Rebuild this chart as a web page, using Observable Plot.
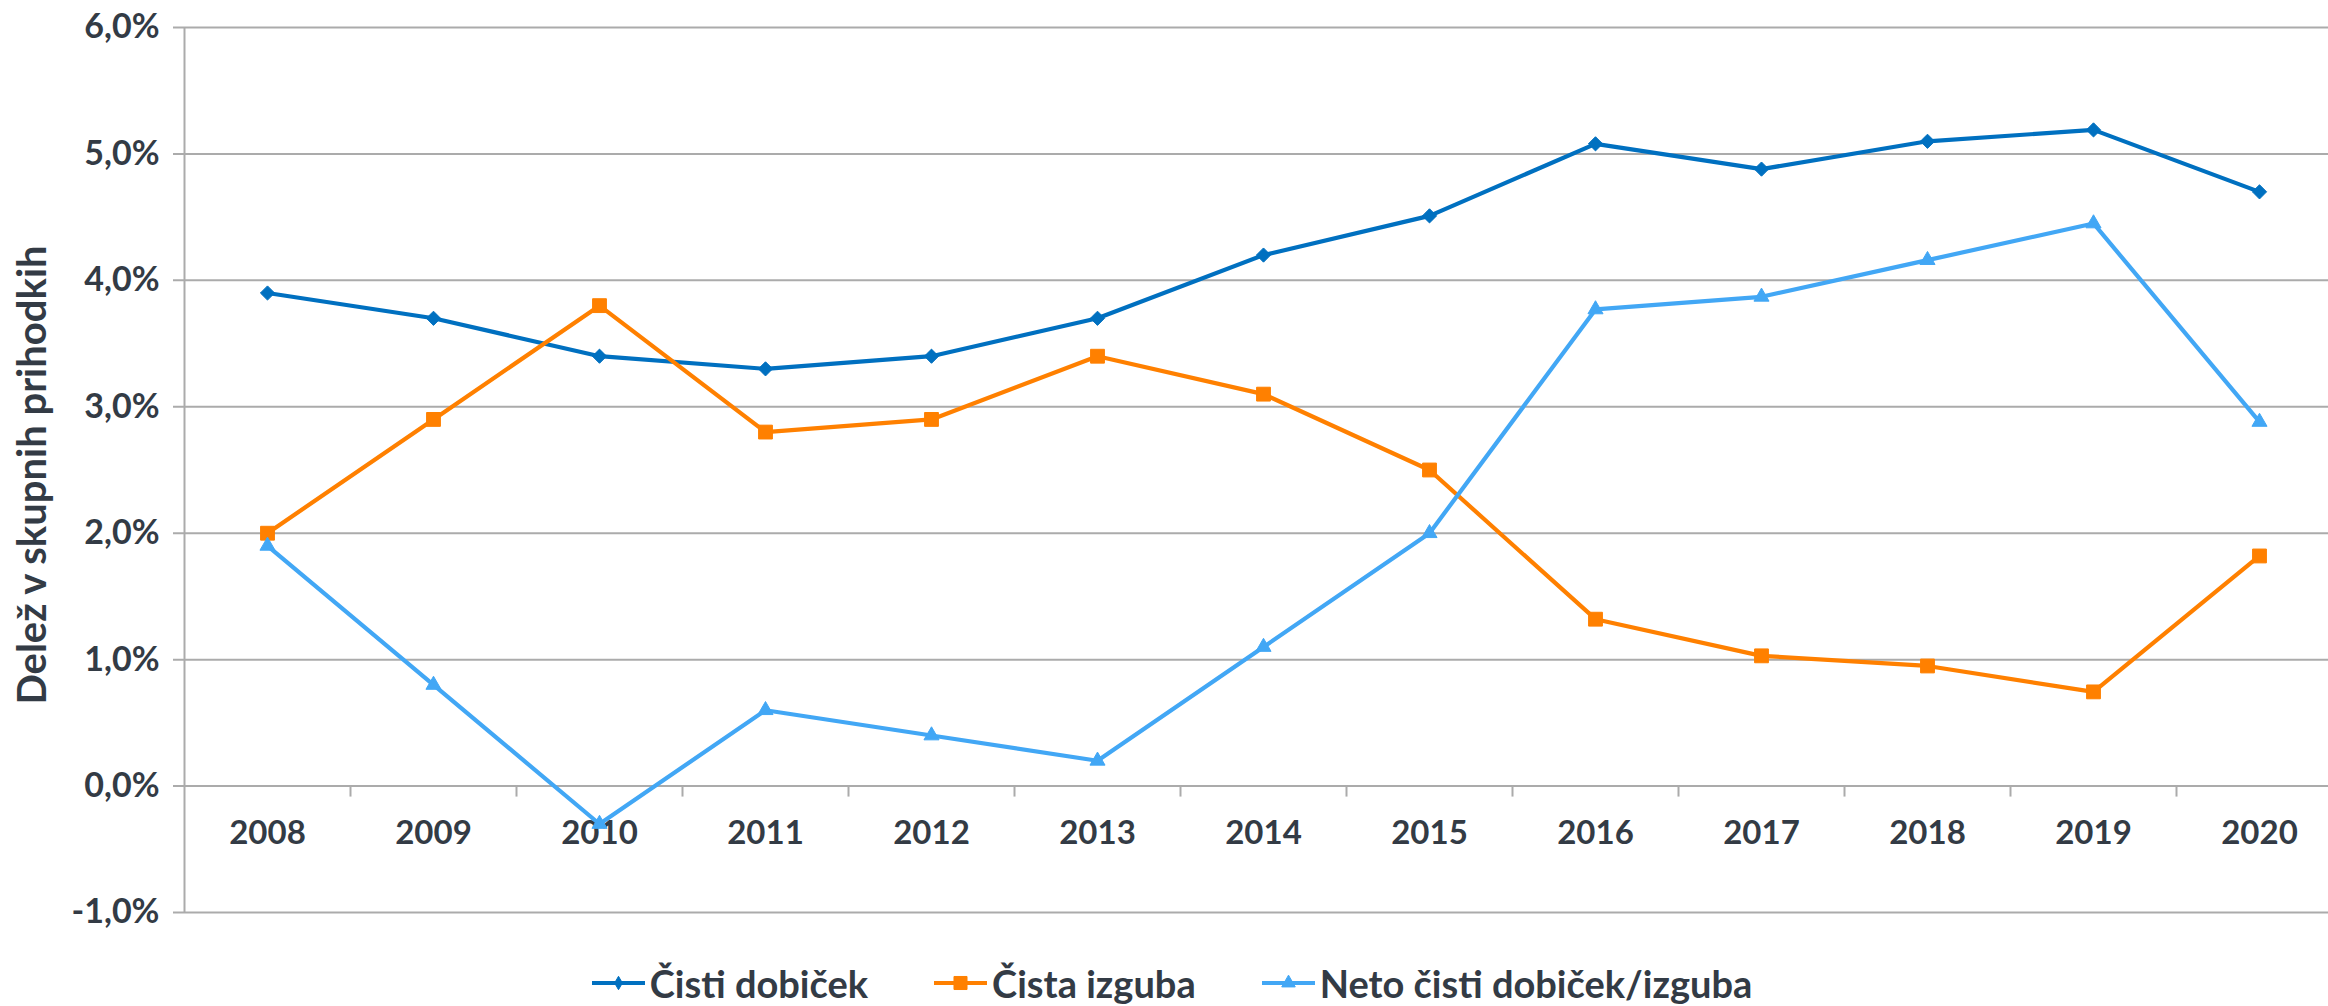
<!DOCTYPE html>
<html>
<head>
<meta charset="utf-8">
<script src="https://cdn.jsdelivr.net/npm/d3@7"></script>
<script src="https://cdn.jsdelivr.net/npm/@observablehq/plot@0.6"></script>
<style>
  html, body { margin: 0; padding: 0; background: #fff; width: 2328px; height: 1006px; overflow: hidden; }
  #legend { display: flex; justify-content: center; align-items: center; box-sizing: border-box;
            height: 66px; padding-top: 20px; padding-left: 16px; gap: 66px;
            font-family: Lato, "Open Sans", sans-serif; font-weight: bold; font-size: 38px; color: #333b45; }
  .item { display: flex; align-items: center; gap: 5px; white-space: nowrap; }
</style>
</head>
<body>
<div id="chart"></div>
<div id="legend"></div>
<script>
// ---- data ----
const years = [2008, 2009, 2010, 2011, 2012, 2013, 2014, 2015, 2016, 2017, 2018, 2019, 2020];
const cistiDobicek = [3.9, 3.7, 3.4, 3.3, 3.4, 3.7, 4.2, 4.51, 5.08, 4.88, 5.1, 5.19, 4.7];
const cistaIzguba = [2.0, 2.9, 3.8, 2.8, 2.9, 3.4, 3.1, 2.5, 1.32, 1.03, 0.95, 0.745, 1.82];
const netoDobicekIzguba = [1.9, 0.8, -0.3, 0.6, 0.4, 0.2, 1.1, 2.0, 3.77, 3.87, 4.16, 4.45, 2.88];
const yTicks = [-1, 0, 1, 2, 3, 4, 5, 6];
const seriesNames = ["Čisti dobiček", "Čista izguba", "Neto čisti dobiček/izguba"];
const yTitle = "Delež v skupnih prihodkih";

// ---- styles ----
const seriesValues = [cistiDobicek, cistaIzguba, netoDobicekIzguba];
const seriesColors = ["#0070C0", "#FF8000", "#42A7F5"];
const seriesSymbols = ["diamond2", "square", "triangle"];
const symbolR = [6.4, 7.8, 5.6];
const legendSymbols = [d3.symbolDiamond, d3.symbolSquare, d3.symbolTriangle];
const legendSizes = [52, 170, 80];
const gridColor = "#ababab";
const textColor = "#333b45";
const fmtPct = d => d.toFixed(1).replace(".", ",") + "%";

const x0 = years[0] - 0.5;
const x1 = years[years.length - 1] + 0.5;
const boundaries = years.map(y => y + 0.5);

const marks = [
  Plot.ruleY(yTicks, {y: d => d, stroke: gridColor, strokeWidth: 2, insetLeft: -11}),
  Plot.ruleX([x0], {x: d => d, stroke: gridColor, strokeWidth: 2}),
  Plot.ruleX(boundaries, {x: d => d, y1: 0, y2: 0, insetBottom: -11, stroke: gridColor, strokeWidth: 2}),
  Plot.text(yTicks, {y: d => d, text: fmtPct, frameAnchor: "left", textAnchor: "end", dx: -25,
                     fontSize: 34, fontWeight: "bold", fill: textColor}),
  Plot.text(years, {x: d => d, y: 0, dy: 47, text: d => String(d),
                    fontSize: 33, fontWeight: "bold", fill: textColor}),
  Plot.text([yTitle], {frameAnchor: "left", textAnchor: "middle", dx: -151, dy: 5, rotate: -90, text: d => d,
                       fontSize: 40, fontWeight: "bold", fill: textColor})
];
seriesValues.forEach((vals, i) => {
  marks.push(Plot.line(years, {x: d => d, y: (d, j) => vals[j], stroke: seriesColors[i], strokeWidth: 4.2}));
  marks.push(Plot.dot(years, {x: d => d, y: (d, j) => vals[j], symbol: seriesSymbols[i], r: symbolR[i],
                              fill: seriesColors[i], stroke: seriesColors[i], strokeWidth: 1}));
});

const chart = Plot.plot({
  width: 2328,
  height: 940,
  marginLeft: 184,
  marginRight: 0,
  marginTop: 27,
  marginBottom: 28,
  x: {type: "linear", domain: [x0, x1], range: [184, 2342], axis: null},
  y: {domain: [-1, 6], axis: null},
  style: {fontFamily: "Lato, 'Open Sans', sans-serif", background: "white", color: textColor},
  marks
});
document.getElementById("chart").appendChild(chart);

// ---- legend ----
const legend = d3.select("#legend");
seriesNames.forEach((name, i) => {
  const item = legend.append("div").attr("class", "item");
  const svg = item.append("svg").attr("width", 53).attr("height", 24);
  svg.append("line").attr("x1", 0).attr("x2", 53).attr("y1", 12).attr("y2", 12)
     .attr("stroke", seriesColors[i]).attr("stroke-width", 4.2);
  svg.append("path").attr("transform", "translate(26.5,12)")
     .attr("d", d3.symbol(legendSymbols[i], legendSizes[i])())
     .attr("fill", seriesColors[i]).attr("stroke", seriesColors[i]).attr("stroke-width", 1);
  item.append("span").text(name);
});
</script>
</body>
</html>
